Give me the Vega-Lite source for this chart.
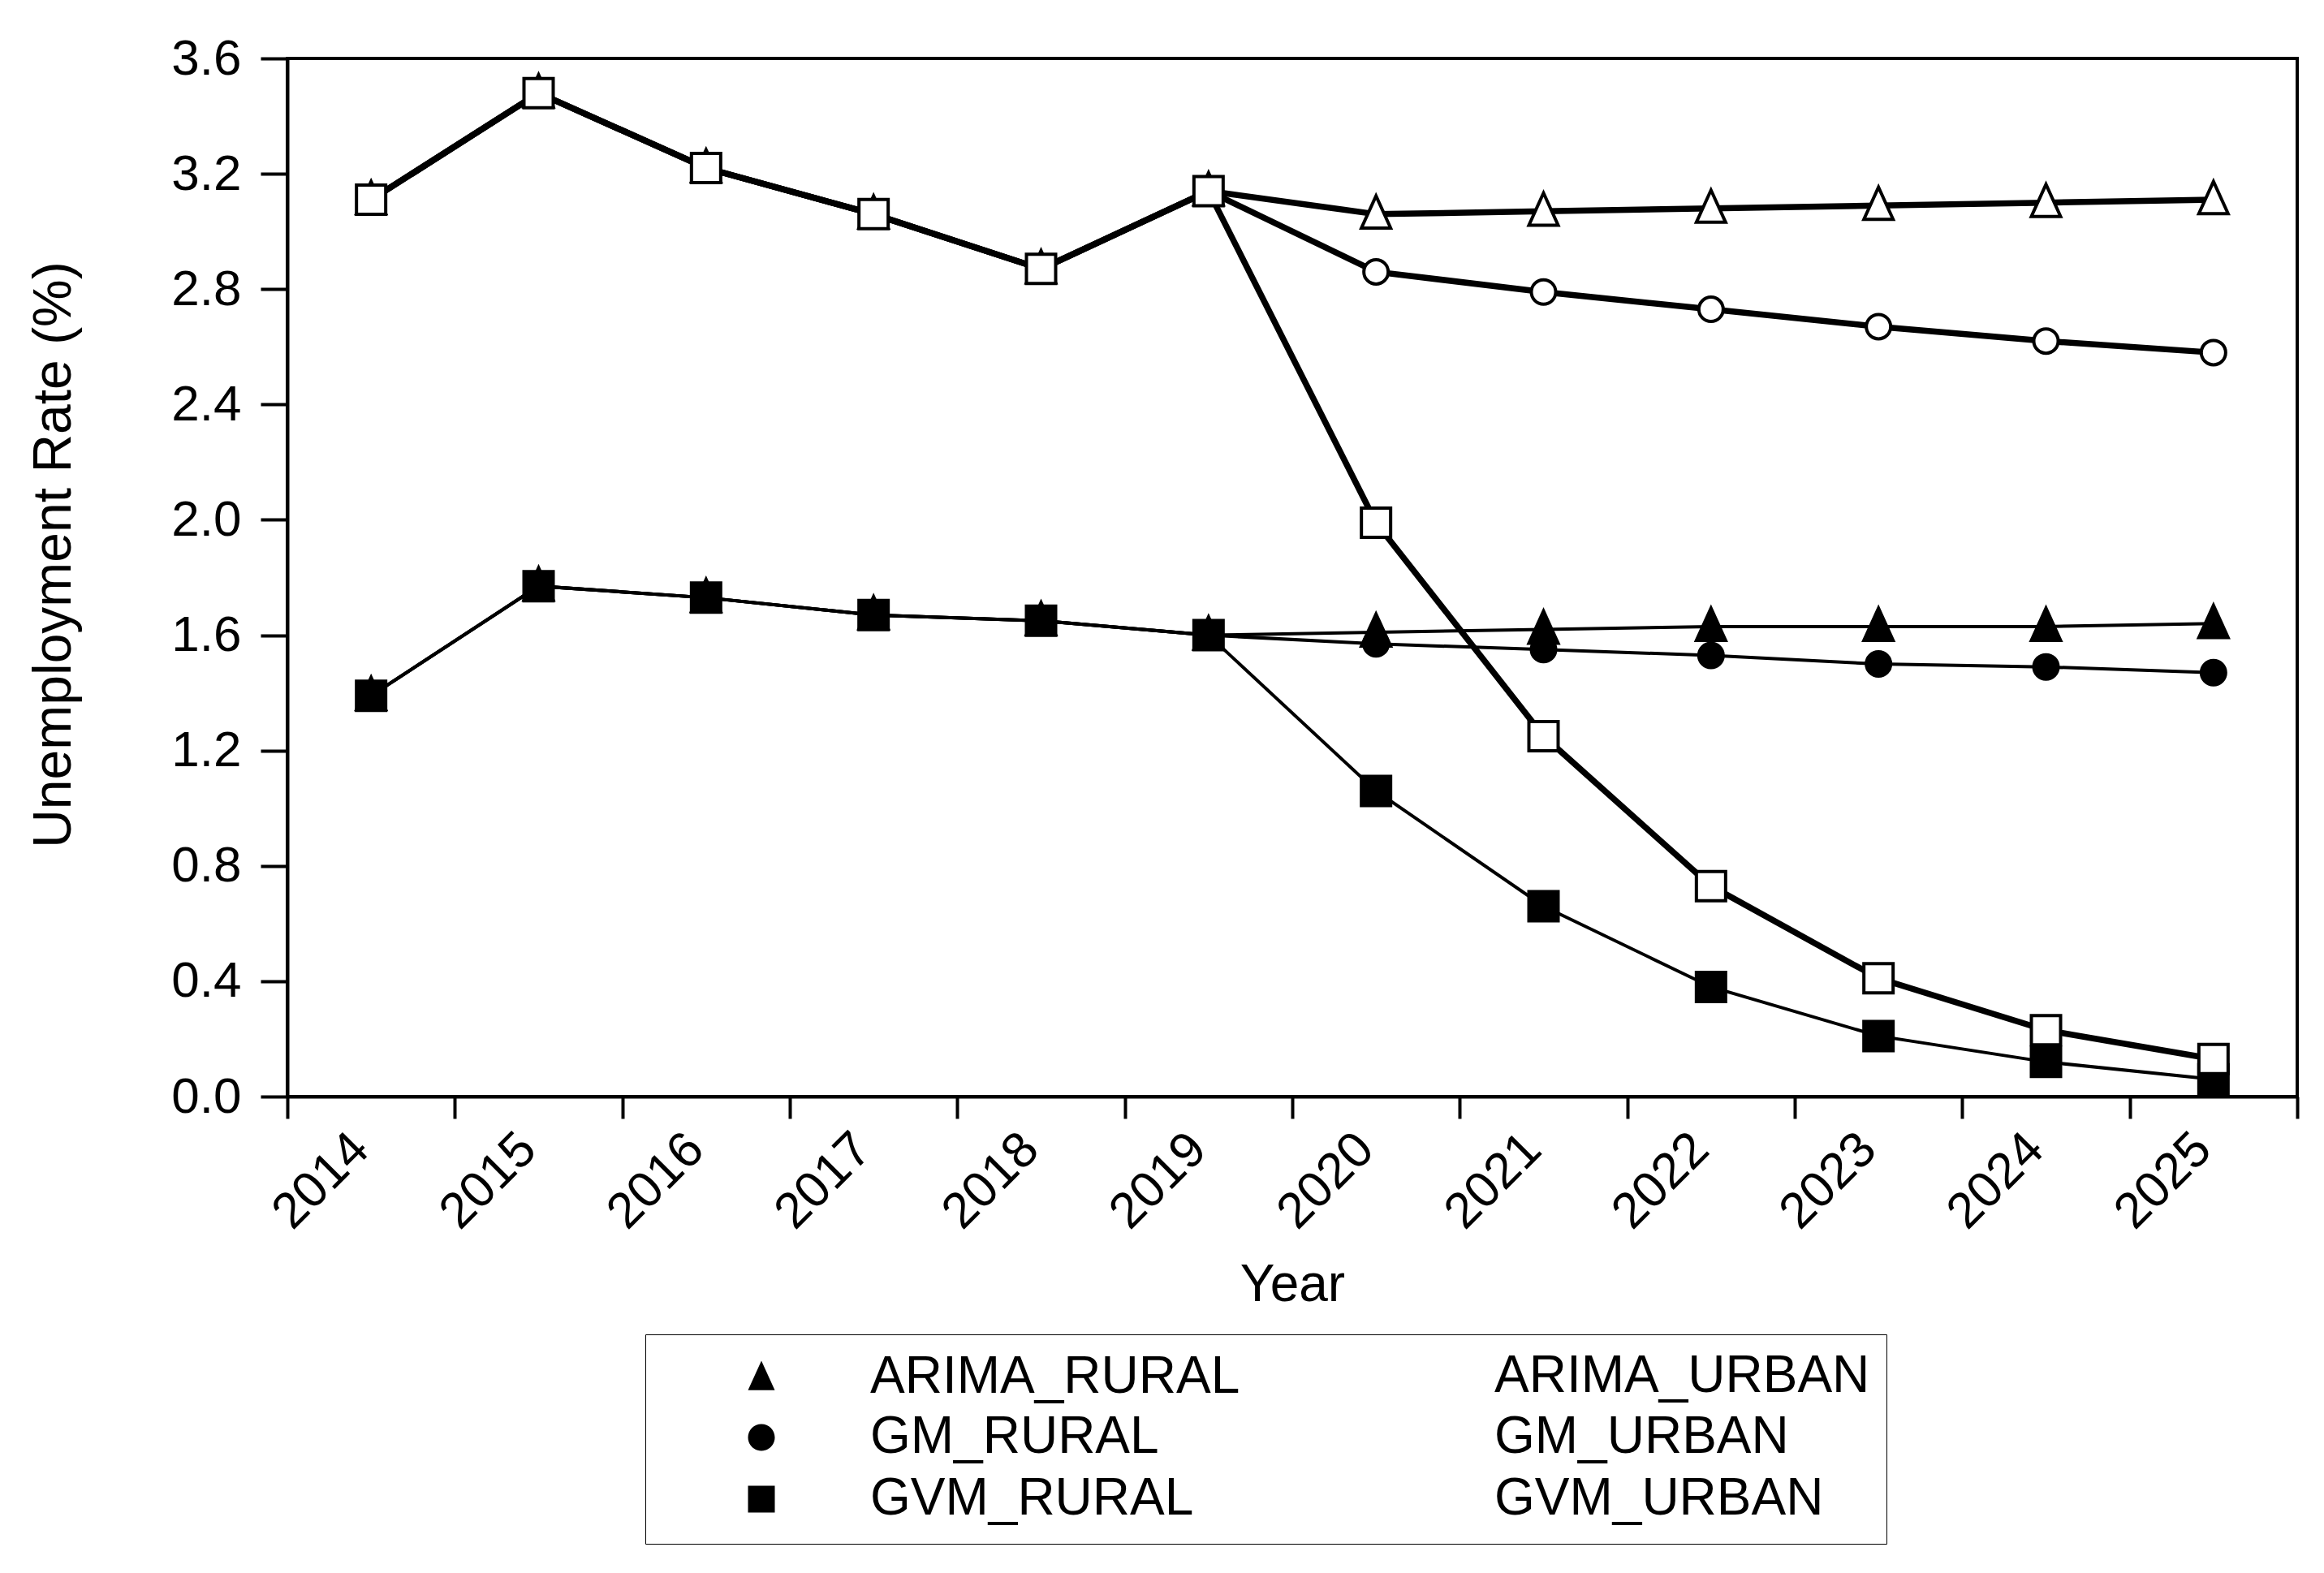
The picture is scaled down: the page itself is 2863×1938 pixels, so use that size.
{
  "$schema": "https://vega.github.io/schema/vega-lite/v6.json",
  "width": 2476,
  "height": 1279,
  "autosize": {"type": "none"},
  "padding": {"left": 354, "top": 72, "right": 33, "bottom": 587},
  "background": "white",
  "data": {
    "values": [
      {"Year": 2014, "Model": "ARIMA", "Area": "RURAL", "Series": "ARIMA_RURAL", "Rate": 1.39},
      {"Year": 2015, "Model": "ARIMA", "Area": "RURAL", "Series": "ARIMA_RURAL", "Rate": 1.77},
      {"Year": 2016, "Model": "ARIMA", "Area": "RURAL", "Series": "ARIMA_RURAL", "Rate": 1.73},
      {"Year": 2017, "Model": "ARIMA", "Area": "RURAL", "Series": "ARIMA_RURAL", "Rate": 1.67},
      {"Year": 2018, "Model": "ARIMA", "Area": "RURAL", "Series": "ARIMA_RURAL", "Rate": 1.65},
      {"Year": 2019, "Model": "ARIMA", "Area": "RURAL", "Series": "ARIMA_RURAL", "Rate": 1.60},
      {"Year": 2020, "Model": "ARIMA", "Area": "RURAL", "Series": "ARIMA_RURAL", "Rate": 1.61},
      {"Year": 2021, "Model": "ARIMA", "Area": "RURAL", "Series": "ARIMA_RURAL", "Rate": 1.62},
      {"Year": 2022, "Model": "ARIMA", "Area": "RURAL", "Series": "ARIMA_RURAL", "Rate": 1.63},
      {"Year": 2023, "Model": "ARIMA", "Area": "RURAL", "Series": "ARIMA_RURAL", "Rate": 1.63},
      {"Year": 2024, "Model": "ARIMA", "Area": "RURAL", "Series": "ARIMA_RURAL", "Rate": 1.63},
      {"Year": 2025, "Model": "ARIMA", "Area": "RURAL", "Series": "ARIMA_RURAL", "Rate": 1.64},
      {"Year": 2014, "Model": "ARIMA", "Area": "URBAN", "Series": "ARIMA_URBAN", "Rate": 3.11},
      {"Year": 2015, "Model": "ARIMA", "Area": "URBAN", "Series": "ARIMA_URBAN", "Rate": 3.48},
      {"Year": 2016, "Model": "ARIMA", "Area": "URBAN", "Series": "ARIMA_URBAN", "Rate": 3.22},
      {"Year": 2017, "Model": "ARIMA", "Area": "URBAN", "Series": "ARIMA_URBAN", "Rate": 3.06},
      {"Year": 2018, "Model": "ARIMA", "Area": "URBAN", "Series": "ARIMA_URBAN", "Rate": 2.87},
      {"Year": 2019, "Model": "ARIMA", "Area": "URBAN", "Series": "ARIMA_URBAN", "Rate": 3.14},
      {"Year": 2020, "Model": "ARIMA", "Area": "URBAN", "Series": "ARIMA_URBAN", "Rate": 3.06},
      {"Year": 2021, "Model": "ARIMA", "Area": "URBAN", "Series": "ARIMA_URBAN", "Rate": 3.07},
      {"Year": 2022, "Model": "ARIMA", "Area": "URBAN", "Series": "ARIMA_URBAN", "Rate": 3.08},
      {"Year": 2023, "Model": "ARIMA", "Area": "URBAN", "Series": "ARIMA_URBAN", "Rate": 3.09},
      {"Year": 2024, "Model": "ARIMA", "Area": "URBAN", "Series": "ARIMA_URBAN", "Rate": 3.10},
      {"Year": 2025, "Model": "ARIMA", "Area": "URBAN", "Series": "ARIMA_URBAN", "Rate": 3.11},
      {"Year": 2014, "Model": "GM", "Area": "RURAL", "Series": "GM_RURAL", "Rate": 1.39},
      {"Year": 2015, "Model": "GM", "Area": "RURAL", "Series": "GM_RURAL", "Rate": 1.77},
      {"Year": 2016, "Model": "GM", "Area": "RURAL", "Series": "GM_RURAL", "Rate": 1.73},
      {"Year": 2017, "Model": "GM", "Area": "RURAL", "Series": "GM_RURAL", "Rate": 1.67},
      {"Year": 2018, "Model": "GM", "Area": "RURAL", "Series": "GM_RURAL", "Rate": 1.65},
      {"Year": 2019, "Model": "GM", "Area": "RURAL", "Series": "GM_RURAL", "Rate": 1.60},
      {"Year": 2020, "Model": "GM", "Area": "RURAL", "Series": "GM_RURAL", "Rate": 1.57},
      {"Year": 2021, "Model": "GM", "Area": "RURAL", "Series": "GM_RURAL", "Rate": 1.55},
      {"Year": 2022, "Model": "GM", "Area": "RURAL", "Series": "GM_RURAL", "Rate": 1.53},
      {"Year": 2023, "Model": "GM", "Area": "RURAL", "Series": "GM_RURAL", "Rate": 1.50},
      {"Year": 2024, "Model": "GM", "Area": "RURAL", "Series": "GM_RURAL", "Rate": 1.49},
      {"Year": 2025, "Model": "GM", "Area": "RURAL", "Series": "GM_RURAL", "Rate": 1.47},
      {"Year": 2014, "Model": "GM", "Area": "URBAN", "Series": "GM_URBAN", "Rate": 3.11},
      {"Year": 2015, "Model": "GM", "Area": "URBAN", "Series": "GM_URBAN", "Rate": 3.48},
      {"Year": 2016, "Model": "GM", "Area": "URBAN", "Series": "GM_URBAN", "Rate": 3.22},
      {"Year": 2017, "Model": "GM", "Area": "URBAN", "Series": "GM_URBAN", "Rate": 3.06},
      {"Year": 2018, "Model": "GM", "Area": "URBAN", "Series": "GM_URBAN", "Rate": 2.87},
      {"Year": 2019, "Model": "GM", "Area": "URBAN", "Series": "GM_URBAN", "Rate": 3.14},
      {"Year": 2020, "Model": "GM", "Area": "URBAN", "Series": "GM_URBAN", "Rate": 2.86},
      {"Year": 2021, "Model": "GM", "Area": "URBAN", "Series": "GM_URBAN", "Rate": 2.79},
      {"Year": 2022, "Model": "GM", "Area": "URBAN", "Series": "GM_URBAN", "Rate": 2.73},
      {"Year": 2023, "Model": "GM", "Area": "URBAN", "Series": "GM_URBAN", "Rate": 2.67},
      {"Year": 2024, "Model": "GM", "Area": "URBAN", "Series": "GM_URBAN", "Rate": 2.62},
      {"Year": 2025, "Model": "GM", "Area": "URBAN", "Series": "GM_URBAN", "Rate": 2.58},
      {"Year": 2014, "Model": "GVM", "Area": "RURAL", "Series": "GVM_RURAL", "Rate": 1.39},
      {"Year": 2015, "Model": "GVM", "Area": "RURAL", "Series": "GVM_RURAL", "Rate": 1.77},
      {"Year": 2016, "Model": "GVM", "Area": "RURAL", "Series": "GVM_RURAL", "Rate": 1.73},
      {"Year": 2017, "Model": "GVM", "Area": "RURAL", "Series": "GVM_RURAL", "Rate": 1.67},
      {"Year": 2018, "Model": "GVM", "Area": "RURAL", "Series": "GVM_RURAL", "Rate": 1.65},
      {"Year": 2019, "Model": "GVM", "Area": "RURAL", "Series": "GVM_RURAL", "Rate": 1.60},
      {"Year": 2020, "Model": "GVM", "Area": "RURAL", "Series": "GVM_RURAL", "Rate": 1.06},
      {"Year": 2021, "Model": "GVM", "Area": "RURAL", "Series": "GVM_RURAL", "Rate": 0.66},
      {"Year": 2022, "Model": "GVM", "Area": "RURAL", "Series": "GVM_RURAL", "Rate": 0.38},
      {"Year": 2023, "Model": "GVM", "Area": "RURAL", "Series": "GVM_RURAL", "Rate": 0.21},
      {"Year": 2024, "Model": "GVM", "Area": "RURAL", "Series": "GVM_RURAL", "Rate": 0.12},
      {"Year": 2025, "Model": "GVM", "Area": "RURAL", "Series": "GVM_RURAL", "Rate": 0.06},
      {"Year": 2014, "Model": "GVM", "Area": "URBAN", "Series": "GVM_URBAN", "Rate": 3.11},
      {"Year": 2015, "Model": "GVM", "Area": "URBAN", "Series": "GVM_URBAN", "Rate": 3.48},
      {"Year": 2016, "Model": "GVM", "Area": "URBAN", "Series": "GVM_URBAN", "Rate": 3.22},
      {"Year": 2017, "Model": "GVM", "Area": "URBAN", "Series": "GVM_URBAN", "Rate": 3.06},
      {"Year": 2018, "Model": "GVM", "Area": "URBAN", "Series": "GVM_URBAN", "Rate": 2.87},
      {"Year": 2019, "Model": "GVM", "Area": "URBAN", "Series": "GVM_URBAN", "Rate": 3.14},
      {"Year": 2020, "Model": "GVM", "Area": "URBAN", "Series": "GVM_URBAN", "Rate": 1.99},
      {"Year": 2021, "Model": "GVM", "Area": "URBAN", "Series": "GVM_URBAN", "Rate": 1.25},
      {"Year": 2022, "Model": "GVM", "Area": "URBAN", "Series": "GVM_URBAN", "Rate": 0.73},
      {"Year": 2023, "Model": "GVM", "Area": "URBAN", "Series": "GVM_URBAN", "Rate": 0.41},
      {"Year": 2024, "Model": "GVM", "Area": "URBAN", "Series": "GVM_URBAN", "Rate": 0.23},
      {"Year": 2025, "Model": "GVM", "Area": "URBAN", "Series": "GVM_URBAN", "Rate": 0.13}
    ]
  },
  "encoding": {
    "x": {
      "field": "Year",
      "type": "ordinal",
      "bandPosition": 0.5,
      "scale": {"type": "band", "paddingInner": 0, "paddingOuter": 0},
      "axis": {
        "title": "Year",
        "labelAngle": -45,
        "labelAlign": "right",
        "labelBaseline": "alphabetic",
        "tickBand": "extent",
        "tickSize": 27,
        "labelPadding": 41,
        "titlePadding": 26
      }
    },
    "y": {
      "field": "Rate",
      "type": "quantitative",
      "scale": {"domain": [0, 3.6], "nice": false, "zero": false},
      "axis": {
        "title": "Unemployment Rate (%)",
        "values": [0, 0.4, 0.8, 1.2, 1.6, 2, 2.4, 2.8, 3.2, 3.6],
        "format": ".1f",
        "tickSize": 33,
        "labelPadding": 24,
        "titlePadding": 110,
        "titleFontSize": 66,
        "titleY": 611
      }
    }
  },
  "layer": [
    {
      "mark": {"type": "line", "color": "black", "strokeJoin": "miter"},
      "encoding": {
        "detail": {"field": "Series"},
        "strokeWidth": {
          "field": "Area",
          "type": "nominal",
          "scale": {"type": "ordinal", "domain": ["RURAL", "URBAN"], "range": [4, 7.5]},
          "legend": null
        }
      }
    },
    {
      "mark": {"type": "point", "filled": false, "stroke": "black", "strokeWidth": 4, "opacity": 1},
      "encoding": {
        "shape": {
          "field": "Model",
          "type": "nominal",
          "scale": {
            "domain": ["ARIMA", "GM", "GVM"],
            "range": ["M0,-1.25L1,0.95L-1,0.95Z", "circle", "square"]
          },
          "legend": null
        },
        "fill": {
          "field": "Area",
          "type": "nominal",
          "scale": {"domain": ["RURAL", "URBAN"], "range": ["black", "white"]},
          "legend": null
        },
        "size": {
          "field": "Model",
          "type": "nominal",
          "scale": {"type": "ordinal", "domain": ["ARIMA", "GM", "GVM"], "range": [1296, 900, 1296]},
          "legend": null
        }
      }
    },
    {
      "mark": {"type": "point", "filled": true, "stroke": "black", "opacity": 0},
      "encoding": {
        "shape": {
          "field": "Series",
          "type": "nominal",
          "scale": {
            "domain": ["ARIMA_RURAL", "ARIMA_URBAN", "GM_RURAL", "GM_URBAN", "GVM_RURAL", "GVM_URBAN"],
            "range": [
              "M-6,0H6M0,-1.25L1,0.95L-1,0.95Z",
              "M-6,0H-0.57M0.57,0H6M0,-1.25L1,0.95L-1,0.95Z",
              "M-6,0H6M-1,0A1,1,0,1,1,1,0A1,1,0,1,1,-1,0Z",
              "M-6,0H-1M1,0H6M-1,0A1,1,0,1,1,1,0A1,1,0,1,1,-1,0Z",
              "M-6,0H6M-1,-1H1V1H-1Z",
              "M-6,0H-1M1,0H6M-1,-1H1V1H-1Z"
            ]
          },
          "legend": {
            "title": null,
            "orient": "none",
            "direction": "horizontal",
            "legendX": 441,
            "legendY": 1572,
            "columns": 2,
            "symbolSize": 1089,
            "symbolOpacity": 1,
            "symbolStrokeColor": "black",
            "symbolOffset": 91,
            "labelOffset": 102,
            "columnPadding": 56,
            "rowPadding": 6,
            "padding": 20,
            "strokeColor": "black",
            "encode": {
              "symbols": {
                "stroke": {"value": "black"},
                "opacity": {"value": 1}
              },
              "legend": {
                "stroke": {"value": "black"},
                "strokeWidth": {"value": 4}
              }
            }
          }
        },
        "fill": {
          "field": "Series",
          "type": "nominal",
          "scale": {
            "domain": ["ARIMA_RURAL", "ARIMA_URBAN", "GM_RURAL", "GM_URBAN", "GVM_RURAL", "GVM_URBAN"],
            "range": ["black", "white", "black", "white", "black", "white"]
          }
        },
        "strokeWidth": {
          "field": "Series",
          "type": "nominal",
          "scale": {
            "type": "ordinal",
            "domain": ["ARIMA_RURAL", "ARIMA_URBAN", "GM_RURAL", "GM_URBAN", "GVM_RURAL", "GVM_URBAN"],
            "range": [6, 9, 6, 9, 6, 9]
          }
        }
      }
    }
  ],
  "resolve": {
    "scale": {"shape": "independent", "fill": "independent", "strokeWidth": "independent", "size": "independent"}
  },
  "config": {
    "view": {"stroke": "black", "strokeWidth": 4},
    "axis": {
      "domainColor": "black",
      "domainWidth": 4,
      "tickColor": "black",
      "tickWidth": 4,
      "labelColor": "black",
      "titleColor": "black",
      "labelFont": "Liberation Sans",
      "titleFont": "Liberation Sans",
      "labelFontSize": 62,
      "titleFontSize": 64,
      "titleFontWeight": "normal",
      "grid": false,
      "labelOverlap": false,
      "labelFlush": false
    },
    "legend": {
      "labelFont": "Liberation Sans",
      "labelFontSize": 64,
      "labelColor": "black",
      "labelLimit": 0
    }
  }
}
